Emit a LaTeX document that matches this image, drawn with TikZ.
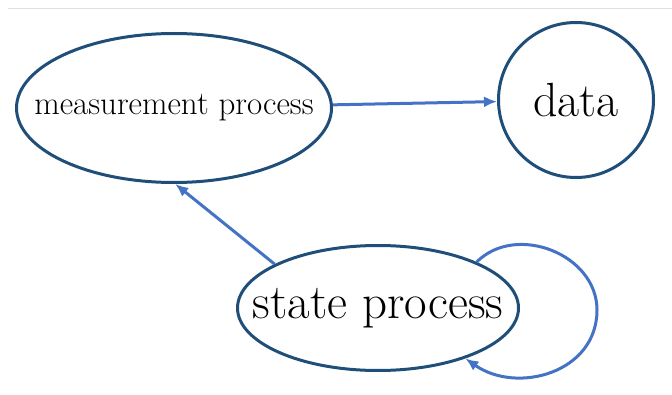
\documentclass[tikz,border=0pt]{standalone}
\usepackage{tikz}
\usetikzlibrary{shapes.geometric,arrows.meta}
\definecolor{procblue}{HTML}{1F4E79}
\definecolor{arrowblue}{HTML}{4472C4}
\newcommand{\proclabel}[1]{\makebox[0pt]{#1}}
\begin{document}
\begin{tikzpicture}[x=1pt,y=1pt]
		\tikzstyle{every node}=[inner sep=0pt, align=center]
		\tikzstyle{proc}=[ellipse, draw=procblue, line width=3pt]
		\tikzstyle{link}=[draw=arrowblue, line width=3pt, -{Latex[length=13pt,width=11pt]}]
		\useasboundingbox (0,0) rectangle (672,394);
		\draw [black!12, line width=0.8pt] (8,386) -- (672,386);
		\node [proc, minimum width=315pt, minimum height=149pt] (meas) at (174,286) {\proclabel{\fontsize{33}{40}\selectfont measurement process}};
		\node [proc, circle, minimum size=155pt] (data) at (576,294) {\proclabel{\fontsize{48}{56}\selectfont data}};
		\node [proc, minimum width=281pt, minimum height=125pt] (state) at (378,86) {\proclabel{\fontsize{49}{58}\selectfont state process}};
		\coordinate (loopR) at (597,84);
		\draw [link] (meas) -- (data);
		\draw [link] (state.157) -- (meas.-89);
		\draw [link] (state.25) to[out=45, in=90, looseness=1.1] (loopR) to[out=-90, in=-35, looseness=1.15] (state.-30);
\end{tikzpicture}
\end{document}
